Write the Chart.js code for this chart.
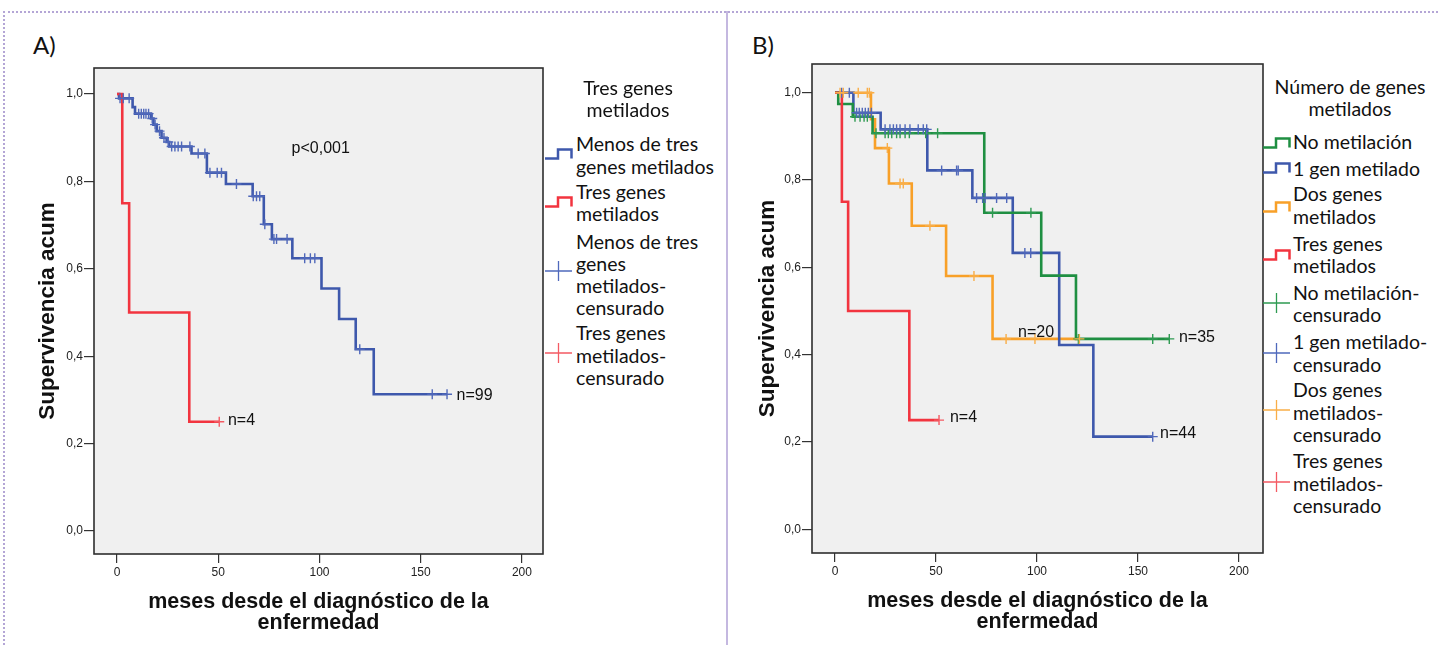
<!DOCTYPE html>
<html><head><meta charset="utf-8">
<script src="https://cdn.jsdelivr.net/npm/chart.js@4/dist/chart.umd.min.js"></script>
<style>
body{margin:0;width:1438px;height:645px;position:relative;overflow:hidden;background:#fff;font-family:Lato,'Liberation Sans',sans-serif;color:#111}
.frame{position:absolute;left:3px;top:11px;width:1433px;height:640px;border-top:2px dotted #b4a6d6;border-left:2px dotted #b4a6d6}
.sep{position:absolute;left:726px;top:11px;width:2px;height:634px;background:#c4b8e0}
.plabel{position:absolute;font-size:24px;line-height:28px}
.lg{position:absolute;font-size:19.5px;line-height:22.5px;white-space:nowrap}
.ttl{text-align:center}
.ic{position:absolute}
canvas{position:absolute;top:0}
</style></head>
<body>
<div class="frame"></div>
<div class="sep"></div>
<div class="plabel" style="left:33px;top:31px">A)</div>
<div class="plabel" style="left:752px;top:31px">B)</div>

<canvas id="chartA" width="550" height="645" style="left:0px"></canvas>
<canvas id="chartB" width="530" height="645" style="left:740px"></canvas>

<!-- Legend A -->
<div class="lg ttl" style="left:540px;width:176px;top:77px;line-height:22px">Tres genes<br>metilados</div>
<div class="lg" style="left:576px;top:131.5px;line-height:23px">Menos de tres<br>genes metilados</div>
<div class="lg" style="left:576px;top:181px;line-height:22px">Tres genes<br>metilados</div>
<div class="lg" style="left:576px;top:231px;line-height:22px">Menos de tres<br>genes<br>metilados-<br>censurado</div>
<div class="lg" style="left:576px;top:322px;line-height:22.5px">Tres genes<br>metilados-<br>censurado</div>
<svg class="ic" style="left:545px;top:148px" width="28" height="12"><path d="M0 10.5H13V1.5H26.5V10.5" fill="none" stroke="#3E58AC" stroke-width="2.5"/></svg>
<svg class="ic" style="left:545px;top:196px" width="28" height="12"><path d="M0 10.5H13V1.5H26.5V10.5" fill="none" stroke="#F2343F" stroke-width="2.5"/></svg>
<svg class="ic" style="left:545px;top:260px" width="28" height="22"><path d="M0 11H27M13.5 1V21" fill="none" stroke="#4F69BC" stroke-width="1.3"/></svg>
<svg class="ic" style="left:545px;top:342px" width="28" height="22"><path d="M0 11H27M13.5 1V21" fill="none" stroke="#F45A63" stroke-width="1.3"/></svg>

<!-- Legend B -->
<div class="lg ttl" style="left:1270px;width:160px;top:76px;line-height:21.5px">Número de genes<br>metilados</div>
<div class="lg" style="left:1293px;top:130.5px">No metilación</div>
<div class="lg" style="left:1293px;top:157.5px">1 gen metilado</div>
<div class="lg" style="left:1293px;top:182px;line-height:23px">Dos genes<br>metilados</div>
<div class="lg" style="left:1293px;top:233px;line-height:22px">Tres genes<br>metilados</div>
<div class="lg" style="left:1293px;top:282px;line-height:22px">No metilación-<br>censurado</div>
<div class="lg" style="left:1293px;top:329.5px;line-height:23px">1 gen metilado-<br>censurado</div>
<div class="lg" style="left:1293px;top:379px;line-height:22.5px">Dos genes<br>metilados-<br>censurado</div>
<div class="lg" style="left:1293px;top:450px;line-height:22.5px">Tres genes<br>metilados-<br>censurado</div>
<svg class="ic" style="left:1263px;top:136.5px" width="28" height="12"><path d="M0 10.5H13V1.5H26.5V10.5" fill="none" stroke="#1F8F42" stroke-width="2.5"/></svg>
<svg class="ic" style="left:1263px;top:162px" width="28" height="12"><path d="M0 10.5H13V1.5H26.5V10.5" fill="none" stroke="#3E58AC" stroke-width="2.5"/></svg>
<svg class="ic" style="left:1263px;top:201px" width="28" height="12"><path d="M0 10.5H13V1.5H26.5V10.5" fill="none" stroke="#F8A028" stroke-width="2.5"/></svg>
<svg class="ic" style="left:1263px;top:249px" width="28" height="12"><path d="M0 10.5H13V1.5H26.5V10.5" fill="none" stroke="#F2343F" stroke-width="2.5"/></svg>
<svg class="ic" style="left:1263px;top:292px" width="28" height="22"><path d="M0 11H27M13.5 1V21" fill="none" stroke="#2E9A52" stroke-width="1.3"/></svg>
<svg class="ic" style="left:1263px;top:342px" width="28" height="22"><path d="M0 11H27M13.5 1V21" fill="none" stroke="#4F69BC" stroke-width="1.3"/></svg>
<svg class="ic" style="left:1263px;top:399px" width="28" height="22"><path d="M0 11H27M13.5 1V21" fill="none" stroke="#F9AE48" stroke-width="1.3"/></svg>
<svg class="ic" style="left:1263px;top:471px" width="28" height="22"><path d="M0 11H27M13.5 1V21" fill="none" stroke="#F45A63" stroke-width="1.3"/></svg>

<script>
// ---- axis ticks ----
const monthTicks = [0, 50, 100, 150, 200];
const survTicks = [0, 0.2, 0.4, 0.6, 0.8, 1.0];
const survTickLabels = ['0,0', '0,2', '0,4', '0,6', '0,8', '1,0'];
const xTitle = ['meses desde el diagnóstico de la', 'enfermedad'];
const yTitle = 'Supervivencia acum';

// ---- Panel A: Menos de tres genes metilados (n=99) ----
const aLowT = [0, 1, 7.7, 8.9, 16.8, 18, 19.6, 22, 24.5, 25.8, 36.8, 44.4, 53.8, 67, 72.5, 76.5, 86.6, 101, 109.7, 117.9, 126.8, 163];
const aLowS = [1, 0.99, 0.97, 0.955, 0.944, 0.93, 0.915, 0.90, 0.89, 0.88, 0.864, 0.82, 0.794, 0.766, 0.702, 0.668, 0.624, 0.555, 0.485, 0.416, 0.313, 0.313];
const aLowCensT = [1.5, 3.1, 6, 10.7, 12, 13.2, 14.3, 15.6, 17.4, 18.8, 21, 23.2, 25.3, 27, 28.6, 30.2, 31.9, 36, 40.1, 43.4, 45.9, 49.5, 51.6, 59, 67.3, 68.9, 70.5, 73, 77.5, 78.8, 84, 92.7, 95.5, 97.7, 119.9, 155.7, 163];
const aLowCensS = [0.99, 0.99, 0.99, 0.955, 0.955, 0.955, 0.955, 0.955, 0.944, 0.93, 0.915, 0.90, 0.89, 0.88, 0.88, 0.88, 0.88, 0.88, 0.864, 0.864, 0.82, 0.82, 0.82, 0.794, 0.766, 0.766, 0.766, 0.702, 0.668, 0.668, 0.668, 0.624, 0.624, 0.624, 0.416, 0.313, 0.313];
// ---- Panel A: Tres genes metilados (n=4) ----
const aHighT = [0, 2.6, 6, 35.7, 50.5];
const aHighS = [1, 0.75, 0.5, 0.25, 0.25];
const aHighCensT = [50.5];
const aHighCensS = [0.25];

// ---- Panel B: No metilación (n=35) ----
const bNoneT = [0, 1.6, 8.8, 18.6, 73.9, 102.1, 119.3, 165.8];
const bNoneS = [1, 0.974, 0.945, 0.907, 0.725, 0.581, 0.436, 0.436];
const bNoneCensT = [9.9, 12.4, 14.4, 16, 20.3, 24.8, 26.4, 28.1, 30.5, 32.2, 34.7, 36.8, 44.9, 50.8, 78, 97, 120.5, 157.3, 165.5];
const bNoneCensS = [0.945, 0.945, 0.945, 0.945, 0.907, 0.907, 0.907, 0.907, 0.907, 0.907, 0.907, 0.907, 0.907, 0.907, 0.725, 0.725, 0.436, 0.436, 0.436];
// ---- Panel B: 1 gen metilado (n=44) ----
const bOneT = [0, 9.1, 22.6, 45.7, 68, 88, 111, 127.9, 157.3];
const bOneS = [1, 0.954, 0.916, 0.822, 0.759, 0.633, 0.422, 0.212, 0.212];
const bOneCensT = [3.3, 7.1, 10.7, 12, 13.5, 15, 16.5, 18, 24.8, 27.2, 28.9, 30.5, 32.2, 34.7, 37.1, 41.2, 43.7, 45.4, 52.8, 60.2, 61, 70.1, 73.1, 74.3, 80, 85, 94, 96.9, 157.3];
const bOneCensS = [1, 1, 0.954, 0.954, 0.954, 0.954, 0.954, 0.954, 0.916, 0.916, 0.916, 0.916, 0.916, 0.916, 0.916, 0.916, 0.916, 0.916, 0.822, 0.822, 0.822, 0.759, 0.759, 0.759, 0.759, 0.759, 0.633, 0.633, 0.212];
// ---- Panel B: Dos genes metilados (n=20) ----
const bTwoT = [0, 17.8, 19.8, 26.7, 38, 55, 78, 121];
const bTwoS = [1, 0.939, 0.873, 0.792, 0.695, 0.58, 0.436, 0.436];
const bTwoCensT = [2.5, 4.1, 11.5, 16, 17, 25.9, 32.2, 33.8, 47, 68.8, 84.7, 99, 121];
const bTwoCensS = [1, 1, 1, 1, 1, 0.873, 0.792, 0.792, 0.695, 0.58, 0.436, 0.436, 0.436];
// ---- Panel B: Tres genes metilados (n=4) ----
const bThreeT = [0, 3.4, 6.5, 36.8, 51.5];
const bThreeS = [1, 0.75, 0.5, 0.25, 0.25];
const bThreeCensT = [51.5];
const bThreeCensS = [0.25];

// ---- annotation texts ----
const notesA = [
  {text: 'p<0,001', t: 100.6, s: 0.876, align: 'center'},
  {text: 'n=4', t: 54.8, s: 0.252, align: 'left'},
  {text: 'n=99', t: 167.7, s: 0.309, align: 'left'}
];
const notesB = [
  {text: 'n=4', t: 56.9, s: 0.255, align: 'left'},
  {text: 'n=20', t: 90.6, s: 0.45, align: 'left'},
  {text: 'n=35', t: 170.3, s: 0.44, align: 'left'},
  {text: 'n=44', t: 160.9, s: 0.22, align: 'left'}
];

const BLUE = '#3E58AC', RED = '#F2343F', GREEN = '#1F8F42', ORANGE = '#F8A028';
const BLUE_C = '#5068BA', RED_C = '#F45A63', GREEN_C = '#2E9A52', ORANGE_C = '#F9AE48';

function pts(ts, ss) { return ts.map((t, i) => ({x: t, y: ss[i]})); }
function curve(ts, ss, color, order) {
  return {type: 'line', data: pts(ts, ss), borderColor: color, borderWidth: 2.6, stepped: 'before',
    pointRadius: 0, fill: false, order: order};
}
function marks(ts, ss, color, order) {
  return {type: 'line', data: pts(ts, ss), showLine: false, pointStyle: 'cross', pointRadius: 5,
    pointBorderWidth: 1.4, borderColor: color, backgroundColor: color, pointBorderColor: color, order: order};
}

const framePlugin = {
  id: 'plotFrame',
  beforeDraw(chart) {
    const {ctx, chartArea: a} = chart;
    ctx.save();
    ctx.fillStyle = '#F0F0F0';
    ctx.fillRect(a.left, a.top, a.right - a.left, a.bottom - a.top);
    ctx.restore();
  },
  afterDraw(chart, args, opts) {
    const {ctx, chartArea: a} = chart;
    ctx.save();
    ctx.strokeStyle = '#2e2e2e';
    ctx.lineWidth = 1.6;
    ctx.strokeRect(a.left, a.top, a.right - a.left, a.bottom - a.top);
    ctx.fillStyle = '#111';
    ctx.font = '16px "Liberation Sans", Arial, sans-serif';
    ctx.textBaseline = 'middle';
    (opts.notes || []).forEach(n => {
      ctx.textAlign = n.align;
      ctx.fillText(n.text, chart.scales.x.getPixelForValue(n.t), chart.scales.y.getPixelForValue(n.s));
    });
    ctx.restore();
  }
};

function makeChart(id, datasets, notes, geom) {
  return new Chart(document.getElementById(id), {
    type: 'line',
    data: {datasets: datasets},
    plugins: [framePlugin],
    options: {
      responsive: false, animation: false, devicePixelRatio: 1,
      layout: {padding: geom.padding, autoPadding: false},
      plugins: {legend: {display: false}, tooltip: {enabled: false}, plotFrame: {notes: notes}},
      scales: {
        x: {
          type: 'linear', min: geom.xMin, max: geom.xMax,
          afterBuildTicks: ax => { ax.ticks = monthTicks.map(v => ({value: v})); },
          afterFit: sc => { sc.height = geom.xH; },
          border: {display: false},
          grid: {drawOnChartArea: false, drawTicks: true, tickLength: 9, color: '#333', lineWidth: 1.2},
          ticks: {padding: 2, color: '#222', font: {family: '"Liberation Sans", Arial', size: 12}, maxRotation: 0,
            callback: v => String(v)},
          title: {display: true, text: xTitle, color: '#111',
            font: {family: '"Liberation Sans", Arial', size: 21.5, weight: 'bold', lineHeight: 1.0},
            padding: {top: 4, bottom: geom.xTitlePad}}
        },
        y: {
          type: 'linear', min: geom.yMin, max: geom.yMax,
          afterBuildTicks: ax => { ax.ticks = survTicks.map(v => ({value: v})); },
          afterFit: sc => { sc.width = geom.yW; },
          border: {display: false},
          grid: {drawOnChartArea: false, drawTicks: true, tickLength: 10, color: '#333', lineWidth: 1.2},
          ticks: {padding: 1, color: '#222', font: {family: '"Liberation Sans", Arial', size: 12},
            callback: (v, i) => survTickLabels[i]},
          title: {display: true, text: yTitle, color: '#111',
            font: {family: '"Liberation Sans", Arial', size: 22.5, weight: 'bold', lineHeight: 1.2},
            padding: {top: 4, bottom: 4}}
        }
      }
    }
  });
}

makeChart('chartA', [
  curve(aHighT, aHighS, RED, 1),
  curve(aLowT, aLowS, BLUE, 2),
  marks(aHighCensT, aHighCensS, RED_C, 0),
  marks(aLowCensT, aLowCensS, BLUE_C, 0)
], notesA, {padding: {left: 30.5, top: 68, right: 7, bottom: 0}, yW: 63.5, xH: 91,
  xMin: -11.36, xMax: 210.4, yMin: -0.0526, yMax: 1.0595, xTitlePad: 10.75});

makeChart('chartB', [
  curve(bThreeT, bThreeS, RED, 1),
  curve(bTwoT, bTwoS, ORANGE, 4),
  curve(bOneT, bOneS, BLUE, 3),
  curve(bNoneT, bNoneS, GREEN, 2),
  marks(bThreeCensT, bThreeCensS, RED_C, 0),
  marks(bTwoCensT, bTwoCensS, ORANGE_C, 0),
  marks(bOneCensT, bOneCensS, BLUE_C, 0),
  marks(bNoneCensT, bNoneCensS, GREEN_C, 0)
], notesB, {padding: {left: 10.5, top: 64, right: 7, bottom: 0}, yW: 61.5, xH: 92,
  xMin: -11.39, xMax: 211.9, yMin: -0.0545, yMax: 1.0657, xTitlePad: 11.75});
</script>
</body></html>
